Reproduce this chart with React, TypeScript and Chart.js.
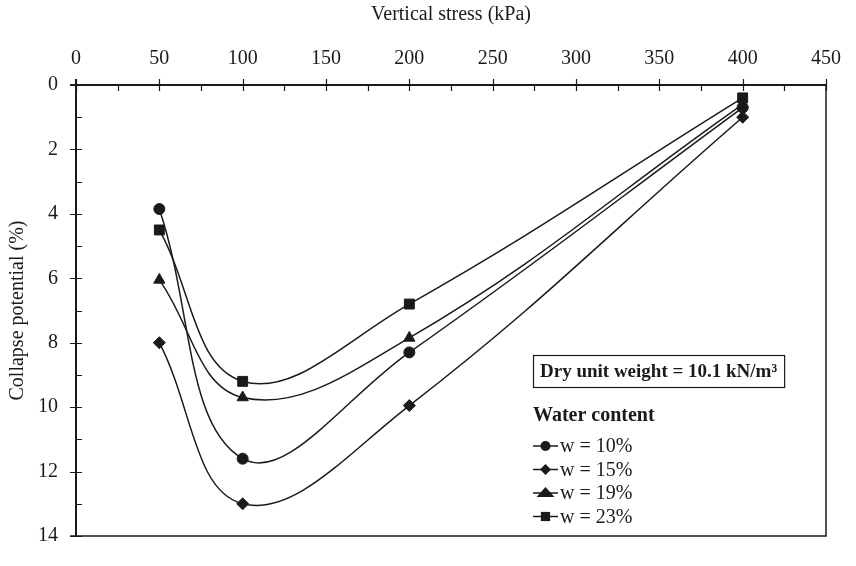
import React, { useEffect, useRef } from 'react';
import { Chart, registerables } from 'chart.js';

Chart.register(...registerables);

// ---- data ----
const stressKPa = [50, 100, 200, 400];
const w10 = [3.85, 11.6, 8.3, 0.7];
const w15 = [8.0, 13.0, 9.95, 1.0];
const w19 = [6.05, 9.7, 7.85, 0.6];
const w23 = [4.5, 9.2, 6.8, 0.4];
const seriesLabels = ['w = 10%', 'w = 15%', 'w = 19%', 'w = 23%'];
const seriesMarkers = ['circle', 'rectRot', 'triangle', 'rect'];
const seriesMarkerRadius = [5.5, 6, 6.5, 7];
const xTickValues = [0, 50, 100, 150, 200, 250, 300, 350, 400, 450];
const yTickValues = [0, 2, 4, 6, 8, 10, 12, 14];
const infoText = 'Dry unit weight = 10.1 kN/m³';
const legendTitle = 'Water content';

const INK = '#1a1a1a';
const FONT = 'Liberation Serif';

function drawMarker(ctx: CanvasRenderingContext2D, style: string, r: number, x: number, y: number) {
  ctx.beginPath();
  if (style === 'circle') {
    ctx.arc(x, y, r, 0, Math.PI * 2);
  } else if (style === 'rectRot') {
    ctx.moveTo(x, y - r);
    ctx.lineTo(x + r, y);
    ctx.lineTo(x, y + r);
    ctx.lineTo(x - r, y);
    ctx.closePath();
  } else if (style === 'triangle') {
    const h = r * 1.5;
    const s = r * Math.sqrt(3) * 0.75 * 1.15;
    ctx.moveTo(x, y - h * 0.66);
    ctx.lineTo(x + s, y + h * 0.34 + 1);
    ctx.lineTo(x - s, y + h * 0.34 + 1);
    ctx.closePath();
  } else {
    const s = r * Math.SQRT1_2;
    ctx.rect(x - s, y - s, 2 * s, 2 * s);
  }
  ctx.fill();
}

const framePlugin = {
  id: 'frameAndLegend',
  afterDraw(chart: any) {
    const ctx = chart.ctx;
    const { left, right, top, bottom } = chart.chartArea;
    const xs = chart.scales.x;
    const ys = chart.scales.y;
    ctx.save();
    ctx.strokeStyle = INK;
    // axes
    ctx.lineWidth = 2;
    ctx.beginPath();
    ctx.moveTo(left - 6, top);
    ctx.lineTo(right, top);
    ctx.moveTo(left, top - 6);
    ctx.lineTo(left, bottom);
    ctx.stroke();
    ctx.lineWidth = 1.5;
    ctx.beginPath();
    ctx.moveTo(right, top);
    ctx.lineTo(right, bottom);
    ctx.lineTo(left - 6, bottom);
    ctx.stroke();
    // ticks
    ctx.lineWidth = 1.2;
    ctx.beginPath();
    const xMin = xTickValues[0];
    const xMax = xTickValues[xTickValues.length - 1];
    const xStep = xTickValues[1] - xTickValues[0];
    for (let v = xMin; v <= xMax + 1e-6; v += xStep / 2) {
      const px = Math.round(xs.getPixelForValue(v)) + 0.5;
      const major = Math.abs(v / xStep - Math.round(v / xStep)) < 1e-6;
      ctx.moveTo(px, major ? top - 6 : top);
      ctx.lineTo(px, top + 6);
    }
    const yMin = yTickValues[0];
    const yMax = yTickValues[yTickValues.length - 1];
    const yStep = yTickValues[1] - yTickValues[0];
    for (let v = yMin; v <= yMax + 1e-6; v += yStep / 2) {
      const py = Math.round(ys.getPixelForValue(v)) + 0.5;
      const major = Math.abs(v / yStep - Math.round(v / yStep)) < 1e-6;
      ctx.moveTo(major ? left - 6 : left, py);
      ctx.lineTo(left + 6, py);
    }
    ctx.stroke();

    // info box
    const bx = 533;
    const by = 355;
    ctx.font = `bold 19px "${FONT}"`;
    ctx.fillStyle = INK;
    ctx.textBaseline = 'middle';
    ctx.textAlign = 'left';
    const tw = ctx.measureText(infoText).width;
    ctx.lineWidth = 1.2;
    ctx.strokeRect(bx + 0.5, by + 0.5, tw + 14, 32);
    ctx.fillText(infoText, bx + 7, by + 17);

    // legend
    ctx.font = `bold 20px "${FONT}"`;
    ctx.fillText(legendTitle, bx, 416);
    ctx.font = `20px "${FONT}"`;
    const ds = chart.data.datasets;
    for (let i = 0; i < ds.length; i++) {
      const y = 446 + i * 23.5;
      ctx.lineWidth = 1.5;
      ctx.beginPath();
      ctx.moveTo(bx, y);
      ctx.lineTo(bx + 25, y);
      ctx.stroke();
      ctx.fillStyle = INK;
      drawMarker(ctx, seriesMarkers[i], seriesMarkerRadius[i] - 0.5, bx + 12.5, y);
      ctx.fillText(seriesLabels[i], bx + 27, y + 1);
    }
    ctx.restore();
  },
};

export default function App() {
  const ref = useRef<HTMLCanvasElement | null>(null);
  useEffect(() => {
    document.body.style.margin = '0';
    const series = [w10, w15, w19, w23];
    const chart = new Chart(ref.current as HTMLCanvasElement, {
      type: 'line',
      data: {
        datasets: series.map((vals, i) => ({
          label: seriesLabels[i],
          data: stressKPa.map((x, j) => ({ x, y: vals[j] })),
          borderColor: INK,
          backgroundColor: INK,
          pointBackgroundColor: INK,
          pointBorderColor: INK,
          pointStyle: seriesMarkers[i] as any,
          pointRadius: seriesMarkerRadius[i],
          pointBorderWidth: 1,
          borderWidth: 1.5,
          tension: 0.4,
          fill: false,
        })),
      },
      options: {
        animation: false,
        responsive: false,
        layout: { padding: { left: 0, top: 0, right: 30, bottom: 9 } },
        plugins: { legend: { display: false }, tooltip: { enabled: false } },
        scales: {
          x: {
            type: 'linear',
            position: 'top',
            min: xTickValues[0],
            max: xTickValues[xTickValues.length - 1],
            grid: { display: false, drawTicks: false },
            border: { display: false },
            ticks: { stepSize: 50, color: INK, font: { family: FONT, size: 20 }, padding: 14 },
            title: { display: true, text: 'Vertical stress (kPa)', color: INK, font: { family: FONT, size: 20 }, padding: { top: 3, bottom: 0 } },
            afterFit(s: any) { s.height = 85; },
          },
          y: {
            type: 'linear',
            reverse: true,
            min: yTickValues[0],
            max: yTickValues[yTickValues.length - 1],
            grid: { display: false, drawTicks: false },
            border: { display: false },
            ticks: { stepSize: 2, color: INK, font: { family: FONT, size: 20 }, padding: 18 },
            title: { display: true, text: 'Collapse potential (%)', color: INK, font: { family: FONT, size: 20 }, padding: { top: 6, bottom: 0 } },
            afterFit(s: any) { s.width = 76; },
          },
        },
      },
      plugins: [framePlugin],
    } as any);
    return () => chart.destroy();
  }, []);
  return (
    <div style={{ position: 'fixed', left: 0, top: 0, width: 856, height: 566, background: '#fff' }}>
      <canvas ref={ref} width={856} height={566} />
    </div>
  );
}
